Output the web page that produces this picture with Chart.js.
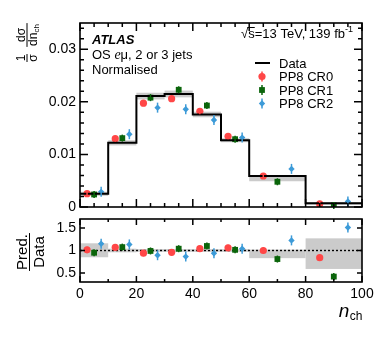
<!DOCTYPE html>
<html><head><meta charset="utf-8">
<script src="https://cdn.jsdelivr.net/npm/chart.js@4.4.0/dist/chart.umd.min.js"></script>
<style>
html,body{margin:0;padding:0;background:#fff;}
#wrap{position:relative;width:382px;height:346px;overflow:hidden;}
canvas{position:absolute;left:0;display:block;}
#top{top:0;} #bot{top:212px;}
</style></head><body>
<div id="wrap"><canvas id="top" width="382" height="212"></canvas><canvas id="bot" width="382" height="134"></canvas></div>
<script>
// ---- data ----
const binEdges = [0, 10, 20, 30, 40, 50, 60, 80, 100];
const dataValues = [0.0025, 0.0122, 0.0211, 0.0215, 0.0176, 0.0127, 0.0059, 0.0007];
const bandLowRatio  = [0.85, 0.96, 0.97, 0.97, 0.97, 0.97, 0.83, 0.59];
const bandHighRatio = [1.16, 1.04, 1.03, 1.03, 1.03, 1.03, 1.02, 1.27];
const cr0Values = [0.00254, 0.01300, 0.01975, 0.02060, 0.01820, 0.01345, 0.00590, 0.00059];
const cr1Values = [0.00238, 0.01310, 0.02080, 0.02230, 0.01930, 0.01290, 0.00480, 0.00029];
const cr2Values = [0.00288, 0.01385, 0.01890, 0.01860, 0.01655, 0.01320, 0.00725, 0.00106];
const cr0Ratio = [1.015, 1.07, 0.94, 0.96, 1.04, 1.06, 1.00, 0.84];
const cr1Ratio = [0.95, 1.075, 0.99, 1.04, 1.10, 1.015, 0.81, 0.42];
const cr2Ratio = [1.15, 1.135, 0.895, 0.865, 0.94, 1.04, 1.225, 1.51];
const topYTicks = [0, 0.01, 0.02, 0.03];
const topYTickLabels = ["0", "0.01", "0.02", "0.03"];
const ratioYTicks = [0.5, 1, 1.5];
const ratioYTickLabels = ["0.5", "1", "1.5"];
const xTicks = [0, 20, 40, 60, 80, 100];
const xTickLabels = ["0", "20", "40", "60", "80", "100"];
const seriesNames = ["Data", "PP8 CR0", "PP8 CR1", "PP8 CR2"];

// ---- styles ----
const RED = '#ff4747', GREEN = '#0b650b', BLUE = '#3d9bd8', BAND = '#cbcbcb';
const FONT = '"Liberation Sans", Arial, sans-serif';
const styles = [
  {color: RED, pointStyle: 'circle', radius: 3.6, frac: 0.25, bar: 3},
  {color: GREEN, pointStyle: 'rect', radius: 4.1, frac: 0.5, bar: 3.5},
  {color: BLUE, pointStyle: 'rectRot', radius: 3.2, frac: 0.75, bar: 5}
];

function binPos(i, frac) { return binEdges[i] + (binEdges[i+1] - binEdges[i]) * frac; }
function pts(vals, frac) { return vals.map((v, i) => ({x: binPos(i, frac), y: v})); }
const stepPts = dataValues.map((v, i) => ({x: binEdges[i], y: v})).concat([{x: 100, y: dataValues[dataValues.length-1]}]);

const bandPlugin = {
  id: 'band',
  beforeDatasetsDraw(chart, args, opts) {
    const {ctx, scales: {x, y}} = chart;
    ctx.save(); ctx.fillStyle = BAND;
    for (let i = 0; i < dataValues.length; i++) {
      const lo = opts.ratio ? bandLowRatio[i] : dataValues[i] * bandLowRatio[i];
      const hi = opts.ratio ? bandHighRatio[i] : dataValues[i] * bandHighRatio[i];
      const x0 = x.getPixelForValue(binEdges[i]), x1 = x.getPixelForValue(binEdges[i+1]);
      const y0 = y.getPixelForValue(hi), y1 = y.getPixelForValue(lo);
      ctx.fillRect(x0, y0, x1 - x0, y1 - y0);
    }
    if (opts.ratio) {
      ctx.strokeStyle = '#000'; ctx.lineWidth = 1.4; ctx.setLineDash([2, 2]);
      const yy = y.getPixelForValue(1);
      ctx.beginPath(); ctx.moveTo(chart.chartArea.left, yy); ctx.lineTo(chart.chartArea.right, yy); ctx.stroke();
    }
    ctx.restore();
  }
};

const errPlugin = {
  id: 'errbars',
  afterDatasetsDraw(chart) {
    const ctx = chart.ctx;
    ctx.save(); ctx.lineWidth = 1.5;
    chart.data.datasets.forEach((ds, di) => {
      if (!ds.errBar) return;
      const meta = chart.getDatasetMeta(di);
      ctx.strokeStyle = ds.borderColor;
      meta.data.forEach(pt => {
        ctx.beginPath(); ctx.moveTo(pt.x, pt.y - ds.errBar); ctx.lineTo(pt.x, pt.y + ds.errBar); ctx.stroke();
      });
    });
    ctx.restore();
  }
};

const framePlugin = {
  id: 'frame',
  afterDraw(chart, args, o) {
    const {ctx, chartArea: a, scales: {x, y}} = chart;
    ctx.save(); ctx.strokeStyle = '#000'; ctx.lineWidth = 1.5;
    ctx.beginPath();
    for (let v = 0; v <= 100 + 1e-9; v += o.xMinor) {
      const px = x.getPixelForValue(v);
      const L = (Math.abs(v % o.xMajor) < 1e-9) ? o.xMajLen : o.xMinLen;
      ctx.moveTo(px, a.bottom); ctx.lineTo(px, a.bottom - L);
      ctx.moveTo(px, a.top); ctx.lineTo(px, a.top + L);
    }
    for (let k = 0; ; k++) {
      const v = o.yStart + k * o.yMinor;
      if (v > y.max + 1e-12) break;
      const py = y.getPixelForValue(v);
      const isMaj = Math.abs(Math.round((v - o.yStart) / o.yMajor) * o.yMajor - (v - o.yStart)) < 1e-9;
      const L = isMaj ? o.yMajLen : o.yMinLen;
      ctx.moveTo(a.left, py); ctx.lineTo(a.left + L, py);
      ctx.moveTo(a.right, py); ctx.lineTo(a.right - L, py);
    }
    ctx.stroke();
    ctx.lineWidth = 1.6;
    ctx.strokeRect(a.left, a.top, a.right - a.left, a.bottom - a.top);
    ctx.restore();
  }
};

function drawMarker(ctx, st, x, y) {
  ctx.save(); ctx.fillStyle = st.color; ctx.strokeStyle = st.color; ctx.lineWidth = 1.5;
  ctx.beginPath(); ctx.moveTo(x, y - 5); ctx.lineTo(x, y + 5); ctx.stroke();
  ctx.beginPath();
  const r = st.radius;
  if (st.pointStyle === 'circle') ctx.arc(x, y, r, 0, Math.PI * 2);
  else if (st.pointStyle === 'rect') { const h = r * Math.SQRT1_2; ctx.rect(x - h, y - h, 2 * h, 2 * h); }
  else { ctx.moveTo(x, y - r); ctx.lineTo(x + r, y); ctx.lineTo(x, y + r); ctx.lineTo(x - r, y); ctx.closePath(); }
  ctx.fill(); ctx.restore();
}

const topTextPlugin = {
  id: 'toptext',
  afterDraw(chart) {
    const c = chart.ctx;
    c.save(); c.fillStyle = '#000'; c.textAlign = 'left'; c.textBaseline = 'alphabetic';
    c.font = 'italic bold 13px ' + FONT; c.fillText('ATLAS', 92, 44);
    let x = 92;
    c.font = '13px ' + FONT; c.fillText('OS ', x, 59); x += c.measureText('OS ').width;
    c.font = 'italic 14px "Liberation Serif", serif'; c.fillText('e', x, 59); x += c.measureText('e').width;
    c.font = '13px ' + FONT; c.fillText('\u03bc, 2 or 3 jets', x, 59);
    c.fillText('Normalised', 92, 74);
    // sqrt(s) line
    c.font = '13px ' + FONT;
    const wR = c.measureText('\u221a').width, wS = c.measureText('s').width;
    const mid = '=13 TeV, 139 fb';
    const wM = c.measureText(mid).width;
    c.font = '9px ' + FONT; const wSup = c.measureText('-1').width;
    const total = wR + wS + wM + wSup;
    let sx = 353 - total;
    c.font = '13px ' + FONT;
    c.fillText('\u221a', sx, 38); sx += wR;
    c.fillText('s', sx, 38);
    c.lineWidth = 1; c.strokeStyle = '#000';
    c.beginPath(); c.moveTo(sx - 1, 27.5); c.lineTo(sx + wS, 27.5); c.stroke();
    sx += wS;
    c.fillText(mid, sx, 38); sx += wM;
    c.font = '9px ' + FONT; c.fillText('-1', sx, 32);
    // legend
    c.font = '13px ' + FONT;
    const ly = [63, 76.5, 90, 103.5];
    c.lineWidth = 2; c.beginPath(); c.moveTo(255, ly[0]); c.lineTo(270, ly[0]); c.stroke();
    for (let i = 0; i < 4; i++) {
      c.fillText(seriesNames[i], 279, ly[i] + 4.6);
      if (i > 0) drawMarker(c, styles[i-1], 262, ly[i]);
    }
    // y title: 1/sigma dsigma/dn_ch
    c.save();
    c.translate(27, 45); c.rotate(-Math.PI / 2);
    c.textAlign = 'center';
    c.font = '12px ' + FONT;
    c.fillText('1', -13, -2.5);
    c.fillText('\u03c3', -13, 10);
    c.lineWidth = 1; c.beginPath(); c.moveTo(-17, 0); c.lineTo(-9, 0); c.stroke();
    c.fillText('d\u03c3', 10, -2.5);
    c.textAlign = 'left';
    const wdn = c.measureText('dn').width;
    c.font = '8px ' + FONT; const wch = c.measureText('ch').width;
    const st = 10 - (wdn + wch) / 2;
    c.font = '12px ' + FONT; c.fillText('dn', st, 10);
    c.font = '8px ' + FONT; c.fillText('ch', st + wdn, 12);
    c.beginPath(); c.moveTo(st - 1, 0); c.lineTo(st + wdn + wch + 1, 0); c.stroke();
    c.restore();
    c.restore();
  }
};

const botTextPlugin = {
  id: 'bottext',
  afterDraw(chart) {
    const c = chart.ctx;
    c.save(); c.fillStyle = '#000'; c.strokeStyle = '#000';
    c.save();
    c.translate(29.5, 40); c.rotate(-Math.PI / 2);
    c.textAlign = 'center'; c.textBaseline = 'alphabetic';
    c.font = '15px ' + FONT;
    c.fillText('Pred.', 0, -3);
    c.fillText('Data', 0, 14);
    const w = Math.max(c.measureText('Pred.').width, c.measureText('Data').width);
    c.lineWidth = 1; c.beginPath(); c.moveTo(-w / 2 - 1, 0); c.lineTo(w / 2 + 1, 0); c.stroke();
    c.restore();
    c.textAlign = 'left'; c.textBaseline = 'alphabetic';
    c.font = '12px ' + FONT; const wch = c.measureText('ch').width;
    c.font = 'italic 19px ' + FONT; const wn = c.measureText('n').width;
    const x0 = 362 - wch - wn;
    c.fillText('n', x0, 105);
    c.font = '12px ' + FONT; c.fillText('ch', x0 + wn + 0.5, 108);
    c.restore();
  }
};

function scatterSets(valsArr) {
  return valsArr.map((vals, k) => ({
    type: 'scatter', data: pts(vals, styles[k].frac),
    pointStyle: styles[k].pointStyle, pointRadius: styles[k].radius,
    backgroundColor: styles[k].color, borderColor: styles[k].color, borderWidth: 0,
    pointBorderWidth: 0, errBar: styles[k].bar, showLine: false
  }));
}

const commonY = (min, max, ticks, labels) => ({
  type: 'linear', min, max,
  grid: {display: false, drawTicks: false}, border: {display: false},
  ticks: {color: '#000', font: {family: FONT, size: 14}, padding: 4,
    callback: (v) => { const i = ticks.findIndex(t => Math.abs(t - v) < 1e-9); return i >= 0 ? labels[i] : ''; }},
  afterBuildTicks: s => { s.ticks = ticks.map(v => ({value: v})); },
  afterFit: s => { s.width = 80; s.paddingTop = 0; s.paddingBottom = 0; }
});

new Chart(document.getElementById('top'), {
  data: {datasets: [
    {type: 'line', data: stepPts, stepped: 'before', borderColor: '#000', borderWidth: 2, pointRadius: 0, fill: false}
  ].concat(scatterSets([cr0Values, cr1Values, cr2Values]))},
  options: {
    responsive: false, animation: false, devicePixelRatio: 1,
    layout: {padding: {left: 0, right: 20, top: 23, bottom: 5}, autoPadding: false},
    plugins: {legend: {display: false}, tooltip: {enabled: false},
      band: {ratio: false},
      frame: {xMinor: 5, xMajor: 20, xMajLen: 8, xMinLen: 4, yStart: 0, yMinor: 0.002, yMajor: 0.01, yMajLen: 8, yMinLen: 4}},
    scales: {
      x: {type: 'linear', min: 0, max: 100, display: false},
      y: commonY(0, 0.035, topYTicks, topYTickLabels)
    }
  },
  plugins: [bandPlugin, errPlugin, framePlugin, topTextPlugin]
});

new Chart(document.getElementById('bot'), {
  data: {datasets: scatterSets([cr0Ratio, cr1Ratio, cr2Ratio])},
  options: {
    responsive: false, animation: false, devicePixelRatio: 1,
    layout: {padding: {left: 0, right: 20, top: 7, bottom: 40}, autoPadding: false},
    plugins: {legend: {display: false}, tooltip: {enabled: false},
      band: {ratio: true},
      frame: {xMinor: 10, xMajor: 20, xMajLen: 6, xMinLen: 3, yStart: 0.5, yMinor: 0.5, yMajor: 0.5, yMajLen: 5, yMinLen: 5}},
    scales: {
      x: {type: 'linear', min: 0, max: 100,
        grid: {display: false, drawTicks: false}, border: {display: false},
        ticks: {color: '#000', font: {family: FONT, size: 14}, padding: 4, maxRotation: 0,
          callback: (v) => { const i = xTicks.indexOf(v); return i >= 0 ? xTickLabels[i] : ''; }},
        afterBuildTicks: s => { s.ticks = xTicks.map(v => ({value: v})); },
        afterFit: s => { s.height = 24; s.paddingLeft = 0; s.paddingRight = 0; }
      },
      y: commonY(0.3, 1.7, ratioYTicks, ratioYTickLabels)
    }
  },
  plugins: [bandPlugin, errPlugin, framePlugin, botTextPlugin]
});
</script>
</body></html>
